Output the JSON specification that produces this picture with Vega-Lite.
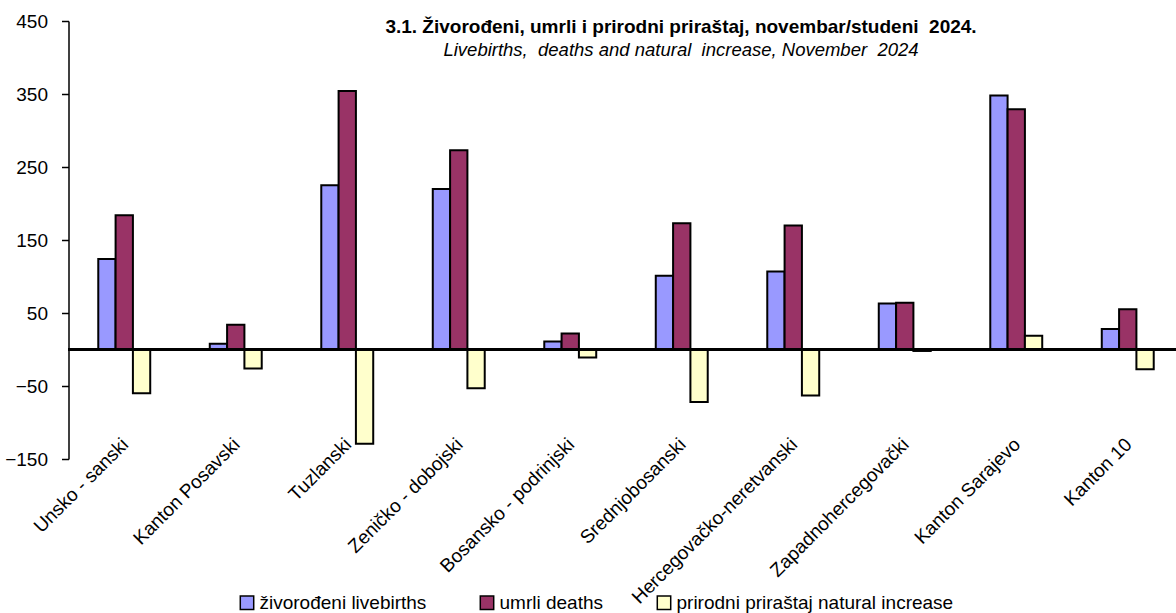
{
  "$schema": "https://vega.github.io/schema/vega-lite/v6.json",
  "width": 1115,
  "height": 438,
  "autosize": {"type": "none"},
  "padding": {"left": 68.5, "top": 21, "right": 0, "bottom": 154},
  "background": "white",
  "config": {
    "font": "Liberation Sans, Arial, sans-serif",
    "view": {"stroke": null},
    "axis": {"labelFont": "Liberation Sans, Arial, sans-serif", "labelColor": "black", "grid": false}
  },
  "title": {
    "text": "3.1. Živorođeni, umrli i prirodni priraštaj, novembar/studeni\u00a0 2024.",
    "subtitle": "Livebirths,\u00a0 deaths and natural\u00a0 increase, November\u00a0 2024",
    "anchor": "middle",
    "frame": "group",
    "dx": 55,
    "offset": -47,
    "font": "Liberation Sans, Arial, sans-serif",
    "fontSize": 19,
    "fontWeight": "bold",
    "color": "black",
    "subtitleFont": "Liberation Sans, Arial, sans-serif",
    "subtitleFontSize": 18.5,
    "subtitleFontStyle": "italic",
    "subtitleColor": "black",
    "subtitlePadding": 4
  },
  "data": {
    "values": [
      {"region": "Unsko - sanski", "series": "živorođeni livebirths", "value": 124},
      {"region": "Unsko - sanski", "series": "umrli deaths", "value": 184},
      {"region": "Unsko - sanski", "series": "prirodni priraštaj natural increase", "value": -60},
      {"region": "Kanton Posavski", "series": "živorođeni livebirths", "value": 8},
      {"region": "Kanton Posavski", "series": "umrli deaths", "value": 34},
      {"region": "Kanton Posavski", "series": "prirodni priraštaj natural increase", "value": -26},
      {"region": "Tuzlanski", "series": "živorođeni livebirths", "value": 225},
      {"region": "Tuzlanski", "series": "umrli deaths", "value": 354},
      {"region": "Tuzlanski", "series": "prirodni priraštaj natural increase", "value": -129},
      {"region": "Zeničko - dobojski", "series": "živorođeni livebirths", "value": 220},
      {"region": "Zeničko - dobojski", "series": "umrli deaths", "value": 273},
      {"region": "Zeničko - dobojski", "series": "prirodni priraštaj natural increase", "value": -53},
      {"region": "Bosansko - podrinjski", "series": "živorođeni livebirths", "value": 11},
      {"region": "Bosansko - podrinjski", "series": "umrli deaths", "value": 22},
      {"region": "Bosansko - podrinjski", "series": "prirodni priraštaj natural increase", "value": -11},
      {"region": "Srednjobosanski", "series": "živorođeni livebirths", "value": 101},
      {"region": "Srednjobosanski", "series": "umrli deaths", "value": 173},
      {"region": "Srednjobosanski", "series": "prirodni priraštaj natural increase", "value": -72},
      {"region": "Hercegovačko-neretvanski", "series": "živorođeni livebirths", "value": 107},
      {"region": "Hercegovačko-neretvanski", "series": "umrli deaths", "value": 170},
      {"region": "Hercegovačko-neretvanski", "series": "prirodni priraštaj natural increase", "value": -63},
      {"region": "Zapadnohercegovački", "series": "živorođeni livebirths", "value": 63},
      {"region": "Zapadnohercegovački", "series": "umrli deaths", "value": 64},
      {"region": "Zapadnohercegovački", "series": "prirodni priraštaj natural increase", "value": -2},
      {"region": "Kanton Sarajevo", "series": "živorođeni livebirths", "value": 348},
      {"region": "Kanton Sarajevo", "series": "umrli deaths", "value": 329},
      {"region": "Kanton Sarajevo", "series": "prirodni priraštaj natural increase", "value": 19},
      {"region": "Kanton 10", "series": "živorođeni livebirths", "value": 28},
      {"region": "Kanton 10", "series": "umrli deaths", "value": 55},
      {"region": "Kanton 10", "series": "prirodni priraštaj natural increase", "value": -27}
    ]
  },
  "layer": [
    {
      "mark": {"type": "bar", "stroke": "black", "strokeWidth": 2},
      "encoding": {
        "x": {
          "field": "region",
          "type": "nominal",
          "sort": null,
          "scale": {"paddingInner": 0.534, "paddingOuter": 0.267},
          "axis": {
            "title": null,
            "domain": false,
            "ticks": false,
            "labelAngle": -45,
            "labelAlign": "right",
            "labelBaseline": "middle",
            "labelPadding": -18,
            "labelOffset": 1,
            "labelFontSize": 19,
            "labelOverlap": false,
            "labelLimit": 400
          }
        },
        "xOffset": {
          "field": "series",
          "type": "nominal",
          "sort": ["živorođeni livebirths", "umrli deaths", "prirodni priraštaj natural increase"]
        },
        "y": {
          "field": "value",
          "type": "quantitative",
          "scale": {"domain": [-150, 450], "nice": false, "zero": false},
          "axis": {
            "title": null,
            "values": [-150, -50, 50, 150, 250, 350, 450],
            "domainColor": "black",
            "domainWidth": 1.5,
            "tickColor": "black",
            "tickWidth": 1.5,
            "tickSize": 7,
            "labelPadding": 14,
            "labelFontSize": 19
          }
        },
        "color": {
          "field": "series",
          "type": "nominal",
          "sort": ["živorođeni livebirths", "umrli deaths", "prirodni priraštaj natural increase"],
          "scale": {
            "domain": ["živorođeni livebirths", "umrli deaths", "prirodni priraštaj natural increase"],
            "range": ["#9999FF", "#993366", "#FFFFCC"]
          },
          "legend": {
            "title": null,
            "orient": "none",
            "direction": "horizontal",
            "legendX": 169,
            "legendY": 572,
            "symbolType": "square",
            "symbolSize": 180,
            "symbolStrokeColor": "black",
            "symbolStrokeWidth": 1.5,
            "symbolOpacity": 1,
            "labelFontSize": 19,
            "labelFont": "Liberation Sans, Arial, sans-serif",
            "labelColor": "black",
            "labelLimit": 500,
            "labelOffset": 3,
            "columnPadding": 50
          }
        }
      }
    },
    {
      "mark": {"type": "rule", "color": "black", "strokeWidth": 2},
      "encoding": {"y": {"datum": 0}}
    }
  ]
}
